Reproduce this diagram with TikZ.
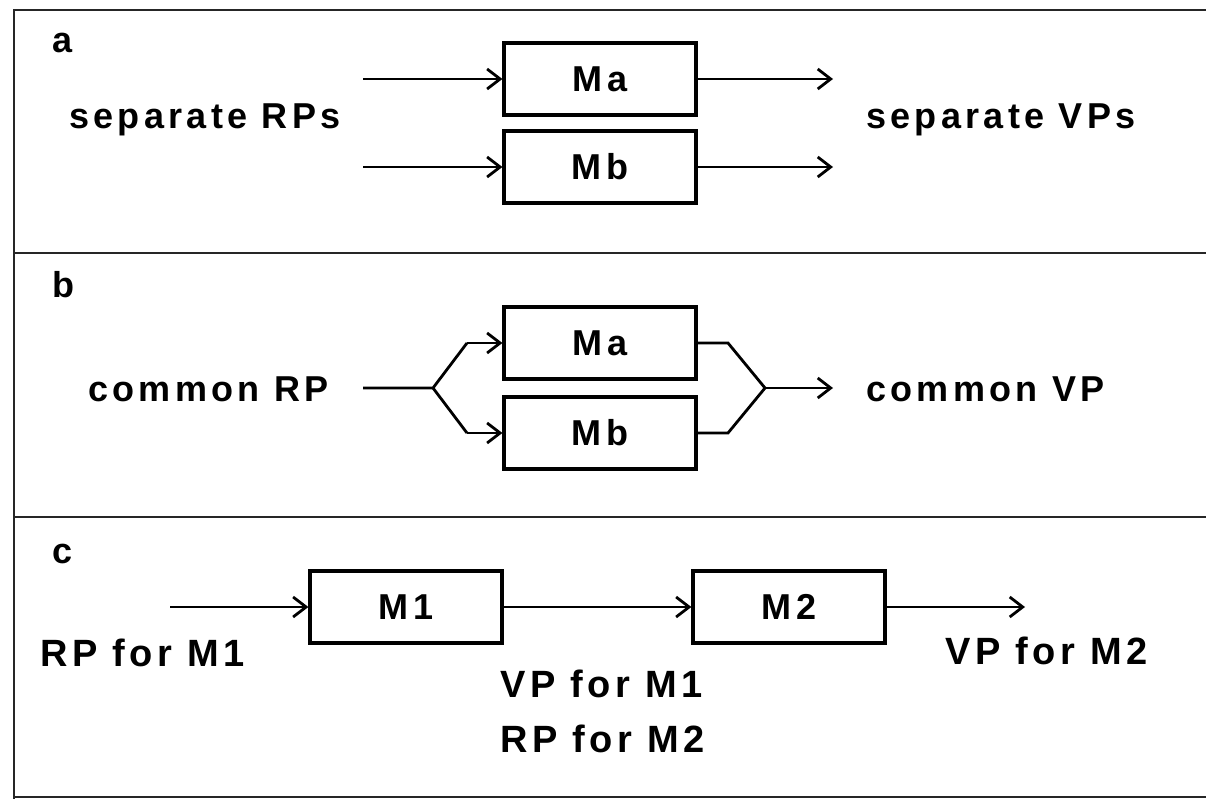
\documentclass[tikz,border=0pt]{standalone}
\usepackage{fontspec}
\setmainfont{Liberation Sans}[LetterSpace=12]
\usetikzlibrary{arrows.meta}
\begin{document}
\begin{tikzpicture}[x=1pt,y=-1pt,
  frame/.style={line width=2.6pt, black!85},
  txt/.style={font=\fontsize{36}{42}\selectfont\bfseries},
  txtc/.style={font=\fontsize{38}{44}\selectfont\bfseries},
  mbox/.style={draw, line width=3.2pt, minimum width=192pt, minimum height=72pt, inner sep=0pt, txt},
  lbl/.style={anchor=base west, inner sep=0pt, txt},
  lblc/.style={anchor=base west, inner sep=0pt, txtc},
  conn/.style={line width=2.8pt},
  arr/.style={conn, -{Straight Barb[length=13pt,width=20pt,line width=2.8pt]}}]
\useasboundingbox (0,0) rectangle (1206,799);
% frame
\draw[frame] (1206,10) -- (14,10) -- (14,799);
\draw[frame] (14,253) -- (1206,253);
\draw[frame] (14,517) -- (1206,517);
\draw[frame] (14,797) -- (1206,797);

% panel a
\node[lbl] (la) at (52,53) {a};
\node[mbox] (Maa) at (600,79) {Ma};
\node[mbox] (Mba) at (600,167) {Mb};
\node[lbl] (srp) at (69,129) {separate RPs};
\node[lbl] (svp) at (866,129) {separate VPs};
\coordinate (ia1) at (363,79);
\coordinate (ia2) at (363,167);
\coordinate (oa1) at (833,79);
\coordinate (oa2) at (833,167);
\draw[arr] (ia1) -- (Maa.west);
\draw[arr] (ia2) -- (Mba.west);
\draw[arr] (Maa.east) -- (oa1);
\draw[arr] (Mba.east) -- (oa2);

% panel b
\node[lbl] (lb) at (52,298) {b};
\node[mbox] (Mab) at (600,343) {Ma};
\node[mbox] (Mbb) at (600,433) {Mb};
\node[lbl] (crp) at (88,401) {common RP};
\node[lbl] (cvp) at (866,401) {common VP};
\coordinate (ib) at (363,388);
\coordinate (sb) at (433,388);
\coordinate (sb1) at (467,343);
\coordinate (sb2) at (467,433);
\coordinate (jb1) at (728,343);
\coordinate (jb2) at (728,433);
\coordinate (jb) at (765,388);
\coordinate (ob) at (833,388);
\draw[conn, line join=miter] (ib) -- (sb) -- (sb1);
\draw[conn] (sb) -- (sb2);
\draw[arr] (sb1) -- (Mab.west);
\draw[arr] (sb2) -- (Mbb.west);
\draw[conn] (Mab.east) -- (jb1) -- (jb);
\draw[conn] (Mbb.east) -- (jb2) -- (jb);
\draw[arr] (jb) -- (ob);

% panel c
\node[lbl] (lc) at (52,563) {c};
\node[mbox] (M1) at (406,607) {M1};
\node[mbox] (M2) at (789,607) {M2};
\node[lblc] (rp1) at (40,666) {RP for M1};
\node[lblc] (vp1) at (500,697) {VP for M1};
\node[lblc] (rp2) at (500,752) {RP for M2};
\node[lblc] (vp2) at (945,664) {VP for M2};
\coordinate (ic) at (170,607);
\coordinate (oc) at (1025,607);
\draw[arr] (ic) -- (M1.west);
\draw[arr] (M1.east) -- (M2.west);
\draw[arr] (M2.east) -- (oc);
\end{tikzpicture}
\end{document}
